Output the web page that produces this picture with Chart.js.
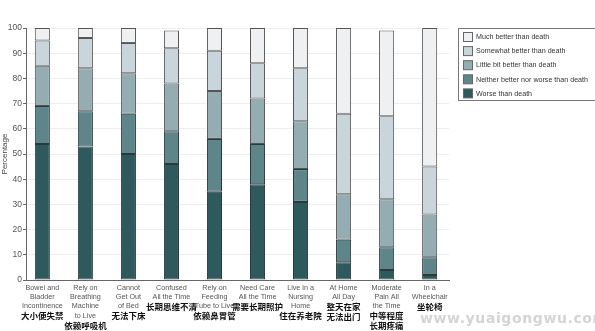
<!DOCTYPE html>
<html>
<head>
<meta charset="utf-8">
<script src="https://cdn.jsdelivr.net/npm/chart.js@4.4.1/dist/chart.umd.min.js"></script>
<style>
  html, body { margin: 0; padding: 0; background: #fff; }
  #wrap { position: relative; width: 595px; height: 331px; overflow: hidden; }
  #mark { position: absolute; left: 420px; top: 310px; font: bold 14px 'DejaVu Sans', sans-serif; color: #d4d4d4; letter-spacing: 0.6px; }
</style>
</head>
<body>
<div id="wrap">
  <canvas id="chart" width="595" height="331"></canvas>
  <div id="mark">www.yuaigongwu.com</div>
</div>
<script>
// Categories (English lines + Chinese lines)
const labelsEn = [
  ['Bowel and', 'Bladder', 'Incontinence'],
  ['Rely on', 'Breathing', 'Machine', 'to Live'],
  ['Cannot', 'Get Out', 'of Bed'],
  ['Confused', 'All the Time'],
  ['Rely on', 'Feeding', 'Tube to Live'],
  ['Need Care', 'All the Time'],
  ['Live in a', 'Nursing', 'Home'],
  ['At Home', 'All Day'],
  ['Moderate', 'Pain All', 'the Time'],
  ['In a', 'Wheelchair']
];
const labelsCn = [
  ['大小便失禁'],
  ['依赖呼吸机'],
  ['无法下床'],
  ['长期思维不清'],
  ['依赖鼻胃管'],
  ['需要长期照护'],
  ['住在养老院'],
  ['整天在家', '无法出门'],
  ['中等程度', '长期疼痛'],
  ['坐轮椅']
];

// Series values (percent), stacked bottom to top
const worse     = [54, 53, 50, 46, 35, 38, 31,  7,  4,  2];
const neither   = [15, 14, 16, 13, 21, 16, 13,  9,  9,  7];
const littleBit = [16, 17, 16, 19, 19, 18, 19, 18, 19, 17];
const somewhat  = [10, 12, 12, 14, 16, 14, 21, 32, 33, 19];
const much      = [ 5,  4,  6,  7,  9, 14, 16, 34, 34, 55];

const seriesNames = ['Worse than death', 'Neither better nor worse than death', 'Little bit better than death',
                     'Somewhat better than death', 'Much better than death'];
const seriesColors = ['#2e5a5e', '#5e858a', '#93adb2', '#c8d5db', '#eef0f2'];
const yTicks = [0, 10, 20, 30, 40, 50, 60, 70, 80, 90, 100];

const allSeries = [worse, neither, littleBit, somewhat, much];

// x is a linear index so the first bar can sit close to the y axis like the original
const datasets = allSeries.map((d, i) => ({
  label: seriesNames[i],
  data: d.map((v, j) => ({ x: j, y: v })),
  backgroundColor: seriesColors[i],
  borderColor: i < 2 ? '#2a3a3c' : '#555',
  borderWidth: 1,
  borderSkipped: false,
  barPercentage: 0.7,
  categoryPercentage: 0.5
}));

const FONT = "'Liberation Sans', sans-serif";

// compressed text, the original uses a condensed face
function narrowText(ctx, t, x, y, k) {
  const w = ctx.measureText(t).width;
  ctx.fillText(t, x, y, w * k);
}

// Draw the two-font x labels under each bar
const xLabelPlugin = {
  id: 'xLabels',
  afterDraw(chart) {
    const ctx = chart.ctx;
    const x = chart.scales.x;
    const base = chart.chartArea.bottom + 7.5;
    ctx.save();
    ctx.textAlign = 'center';
    ctx.textBaseline = 'middle';
    labelsEn.forEach((lines, i) => {
      const cx = x.getPixelForValue(i);
      let y = base;
      ctx.font = '8px ' + FONT;
      ctx.fillStyle = '#555';
      lines.forEach(t => { narrowText(ctx, t, cx, y, 0.9); y += 9.3; });
      ctx.font = "bold 8.5px 'Noto Sans CJK SC', sans-serif";
      ctx.fillStyle = '#111';
      y += 0.7;
      labelsCn[i].forEach(t => { ctx.fillText(t, cx, y); y += 10; });
    });
    ctx.restore();
  }
};

// Boxed legend at the top right, reversed order
const legendPlugin = {
  id: 'boxLegend',
  afterDraw(chart) {
    const ctx = chart.ctx;
    const left = 458.5, top = 28.5;
    ctx.save();
    ctx.strokeStyle = '#777';
    ctx.lineWidth = 1;
    ctx.strokeRect(left, top, 145, 72);
    ctx.font = '8px ' + FONT;
    ctx.textBaseline = 'middle';
    ctx.textAlign = 'left';
    const ds = chart.data.datasets;
    for (let k = 0; k < ds.length; k++) {
      const d = ds[ds.length - 1 - k];
      const cy = 37 + k * 14.1;
      ctx.fillStyle = d.backgroundColor;
      ctx.fillRect(463.5, cy - 4.5, 9, 9);
      ctx.strokeStyle = '#666';
      ctx.strokeRect(463.5, cy - 4.5, 9, 9);
      ctx.fillStyle = '#333';
      narrowText(ctx, d.label, 476, cy, 0.89);
    }
    ctx.restore();
  }
};

new Chart(document.getElementById('chart'), {
  type: 'bar',
  data: { datasets: datasets },
  options: {
    responsive: false,
    animation: false,
    layout: { padding: { left: 0, right: 146, top: 28, bottom: 0 } },
    plugins: { legend: { display: false }, tooltip: { enabled: false } },
    scales: {
      x: {
        type: 'linear',
        stacked: true,
        offset: false,
        min: -0.38,
        max: 9.45,
        grid: { display: false, offset: false },
        border: { display: true, color: '#666' },
        ticks: { display: false },
        afterFit(s) { s.height = 51; }
      },
      y: {
        stacked: true,
        min: 0, max: 100,
        afterBuildTicks(s) { s.ticks = yTicks.map(v => ({ value: v })); },
        grid: { color: '#eeeeee', tickLength: 3, tickColor: '#666', drawTicks: true },
        border: { display: true, color: '#666' },
        ticks: { font: { size: 8.5, family: FONT }, color: '#555', padding: 1 },
        title: { display: true, text: 'Percentage', font: { size: 8, family: FONT }, color: '#444', padding: 0 },
        afterFit(s) { s.width = 26; }
      }
    }
  },
  plugins: [xLabelPlugin, legendPlugin]
});
</script>
</body>
</html>
